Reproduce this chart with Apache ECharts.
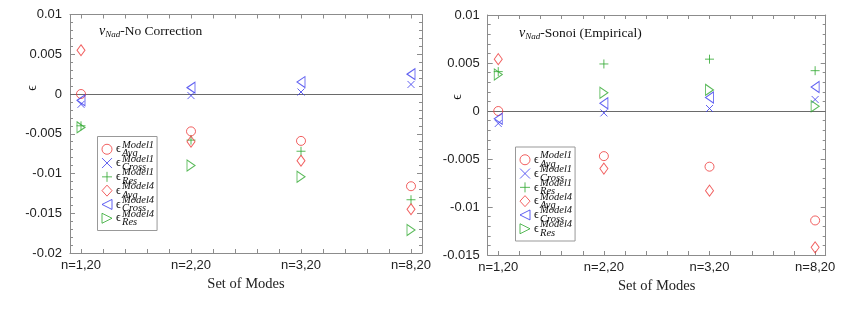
<!DOCTYPE html>
<html><head><meta charset="utf-8">
<script src="https://cdn.jsdelivr.net/npm/echarts@6/dist/echarts.min.js"></script>
<style>html,body{margin:0;padding:0;background:#fff}#c{width:845px;height:312px}</style>
</head><body><div id="c"></div>
<script>
const categories = ['n=1,20', 'n=2,20', 'n=3,20', 'n=8,20'];
const seriesNames = ['ϵ Model1 Avg', 'ϵ Model1 Cross', 'ϵ Model1 Res', 'ϵ Model4 Avg', 'ϵ Model4 Cross', 'ϵ Model4 Res'];
const panelTitles = ['No Correction', 'Sonoi (Empirical)'];
const xAxisTitle = 'Set of Modes';
const yAxisTitle = 'ϵ';

// Left panel: ν_Nad - No Correction
const ncAvgM1   = [0.0000, -0.0047, -0.0059, -0.0116];
const ncCrossM1 = [-0.0013, -0.0002, 0.00025, 0.0012];
const ncResM1   = [-0.0040, -0.0058, -0.0072, -0.0133];
const ncAvgM4   = [0.0055, -0.0060, -0.0084, -0.0145];
const ncCrossM4 = [-0.0008, 0.0008, 0.0015, 0.0025];
const ncResM4   = [-0.0042, -0.0090, -0.0104, -0.0171];

// Right panel: ν_Nad - Sonoi (Empirical)
const soAvgM1   = [0.0000, -0.0047, -0.0058, -0.0114];
const soCrossM1 = [-0.0013, -0.0002, 0.00026, 0.0012];
const soResM1   = [0.0041, 0.0049, 0.0054, 0.0042];
const soAvgM4   = [0.0054, -0.0060, -0.0083, -0.0142];
const soCrossM4 = [-0.0008, 0.0008, 0.0014, 0.0025];
const soResM4   = [0.0038, 0.0019, 0.0022, 0.0005];

const yTicks = [{min: -0.02, max: 0.01}, {min: -0.015, max: 0.01}];

const RED = '#ee3a3a', BLUE = '#3a3aee', GREEN = '#2ea82e';
const styles = [
  {symbol: 'circle', size: 9, color: RED},
  {symbol: 'path://M0,0 L10,10 M10,0 L0,10', size: 7, color: BLUE},
  {symbol: 'path://M5,0 L5,10 M0,5 L10,5', size: 9, color: GREEN},
  {symbol: 'diamond', size: [8, 11], color: RED},
  {symbol: 'path://M0,5 L10,0 L10,10 Z', size: [8, 11], color: BLUE},
  {symbol: 'path://M0,0 L10,5 L0,10 Z', size: [8, 11], color: GREEN}
];
const panels = [
  [ncAvgM1, ncCrossM1, ncResM1, ncAvgM4, ncCrossM4, ncResM4],
  [soAvgM1, soCrossM1, soResM1, soAvgM4, soCrossM4, soResM4]
];
const grids = [
  {left: 70, top: 14.5, width: 352, height: 238.5},
  {left: 487.7, top: 15, width: 338, height: 240}
];
const legendPos = [{left: 97.5, top: 136.5}, {left: 515.5, top: 147}];
const titlePos = [{left: 99, top: 23}, {left: 519, top: 25}];
const epsPos = [{x: 32, y: 88}, {x: 457, y: 97}];

const labelVals = categories.map((c, i) => i + 1);
const minorVals = [];
for (let k = 0; k <= 15; k++) minorVals.push(+(1 + k * 0.2).toFixed(2));

const GRAY = '#8c8c8c';
const SERIF = 'Liberation Serif';
const option = {
  animation: false,
  backgroundColor: '#fff',
  grid: grids,
  title: panelTitles.map((t, p) => ({
    text: '{nu|ν}{sub|Nad}{t|-' + t + '}',
    left: titlePos[p].left, top: titlePos[p].top, padding: 0,
    textStyle: {
      fontWeight: 'normal',
      rich: {
        nu: {fontFamily: SERIF, fontStyle: 'italic', fontWeight: 'normal', fontSize: 14, color: '#111', lineHeight: 16},
        sub: {fontFamily: SERIF, fontStyle: 'italic', fontWeight: 'normal', fontSize: 9, color: '#111', lineHeight: 9, verticalAlign: 'bottom'},
        t: {fontFamily: SERIF, fontWeight: 'normal', fontSize: 13.5, color: '#111', lineHeight: 16}
      }
    }
  })),
  legend: panels.map((_, p) => ({
    data: seriesNames,
    orient: 'vertical',
    left: legendPos[p].left, top: legendPos[p].top,
    itemWidth: 10, itemHeight: 11, itemGap: -6.2,
    padding: [3, 3, 2, 4],
    borderColor: '#999', borderWidth: 1, backgroundColor: '#fff',
    selectedMode: false,
    itemStyle: {color: 'rgba(0,0,0,0)', borderWidth: 1},
    formatter: function (name) {
      const parts = name.split(' ');
      return '{eps|' + parts[0] + '}{sup|' + parts[1] + '}\n{pad|}{sub|' + parts[2] + '}';
    },
    textStyle: {
      padding: [0, 0, 0, -1],
      rich: {
        pad: {width: 6, lineHeight: 8.5},
        sup: {fontFamily: SERIF, fontStyle: 'italic', fontSize: 10.5, lineHeight: 8.5, color: '#111'},
        eps: {fontFamily: SERIF, fontSize: 12, lineHeight: 1, height: 17, width: 6, verticalAlign: 'top', color: '#111'},
        sub: {fontFamily: SERIF, fontStyle: 'italic', fontSize: 10.5, lineHeight: 8.5, color: '#111'}
      }
    }
  })),
  xAxis: [],
  yAxis: [],
  series: [],
  graphic: epsPos.map(e => ({
    type: 'text', x: e.x, y: e.y, rotation: Math.PI / 2,
    style: {text: yAxisTitle, fontFamily: SERIF, fontSize: 14, fill: '#111', align: 'center', verticalAlign: 'middle'}
  }))
};

panels.forEach((vals, p) => {
  const base = option.xAxis.length;
  const common = {type: 'value', gridIndex: p, min: 0.9, max: 4.1, splitLine: {show: false},
    axisLine: {show: true, onZero: false, lineStyle: {color: GRAY, width: 1}}};
  option.xAxis.push(Object.assign({}, common, {
    position: 'bottom',
    name: xAxisTitle, nameLocation: 'middle', nameGap: 23,
    nameTextStyle: {fontFamily: SERIF, fontSize: 14.5, color: '#222'},
    axisTick: {show: true, inside: true, length: 4, customValues: minorVals, lineStyle: {color: GRAY}},
    axisLabel: {customValues: labelVals, margin: 6, fontFamily: 'Liberation Sans', fontSize: 13, color: '#222',
      formatter: v => categories[Math.round(v) - 1] || ''}
  }));
  option.xAxis.push(Object.assign({}, common, {
    position: 'top',
    axisTick: {show: true, inside: true, length: 4, customValues: minorVals, lineStyle: {color: GRAY}},
    axisLabel: {show: false}
  }));
  const ycommon = {type: 'value', gridIndex: p, min: yTicks[p].min, max: yTicks[p].max, interval: 0.005,
    splitLine: {show: false}, axisLine: {show: true, onZero: false, lineStyle: {color: GRAY, width: 1}},
    axisTick: {show: true, inside: true, length: 5, lineStyle: {color: GRAY}},
    minorTick: {show: true, splitNumber: 5, length: 3, lineStyle: {color: GRAY}}};
  option.yAxis.push(Object.assign({}, ycommon, {
    position: 'left',
    axisLabel: {margin: 8, fontFamily: 'Liberation Sans', fontSize: 13, color: '#222'}
  }));
  option.yAxis.push(Object.assign({}, ycommon, {position: 'right', axisLabel: {show: false}}));

  vals.forEach((arr, s) => {
    const st = styles[s];
    const ser = {
      type: 'scatter', name: seriesNames[s], xAxisIndex: base, yAxisIndex: 2 * p,
      symbol: st.symbol, symbolSize: st.size,
      itemStyle: {color: 'rgba(0,0,0,0)', borderColor: st.color, borderWidth: 1},
      data: arr.map((v, i) => [i + 1, v]),
      z: 3
    };
    if (s === 0) {
      ser.markLine = {silent: true, symbol: 'none', label: {show: false},
        lineStyle: {color: '#6a6a6a', width: 1, type: 'solid'}, data: [{yAxis: 0}], z: 1};
    }
    option.series.push(ser);
  });
});

const chart = echarts.init(document.getElementById('c'), null, {renderer: 'canvas'});
chart.setOption(option);
</script>
</body></html>
